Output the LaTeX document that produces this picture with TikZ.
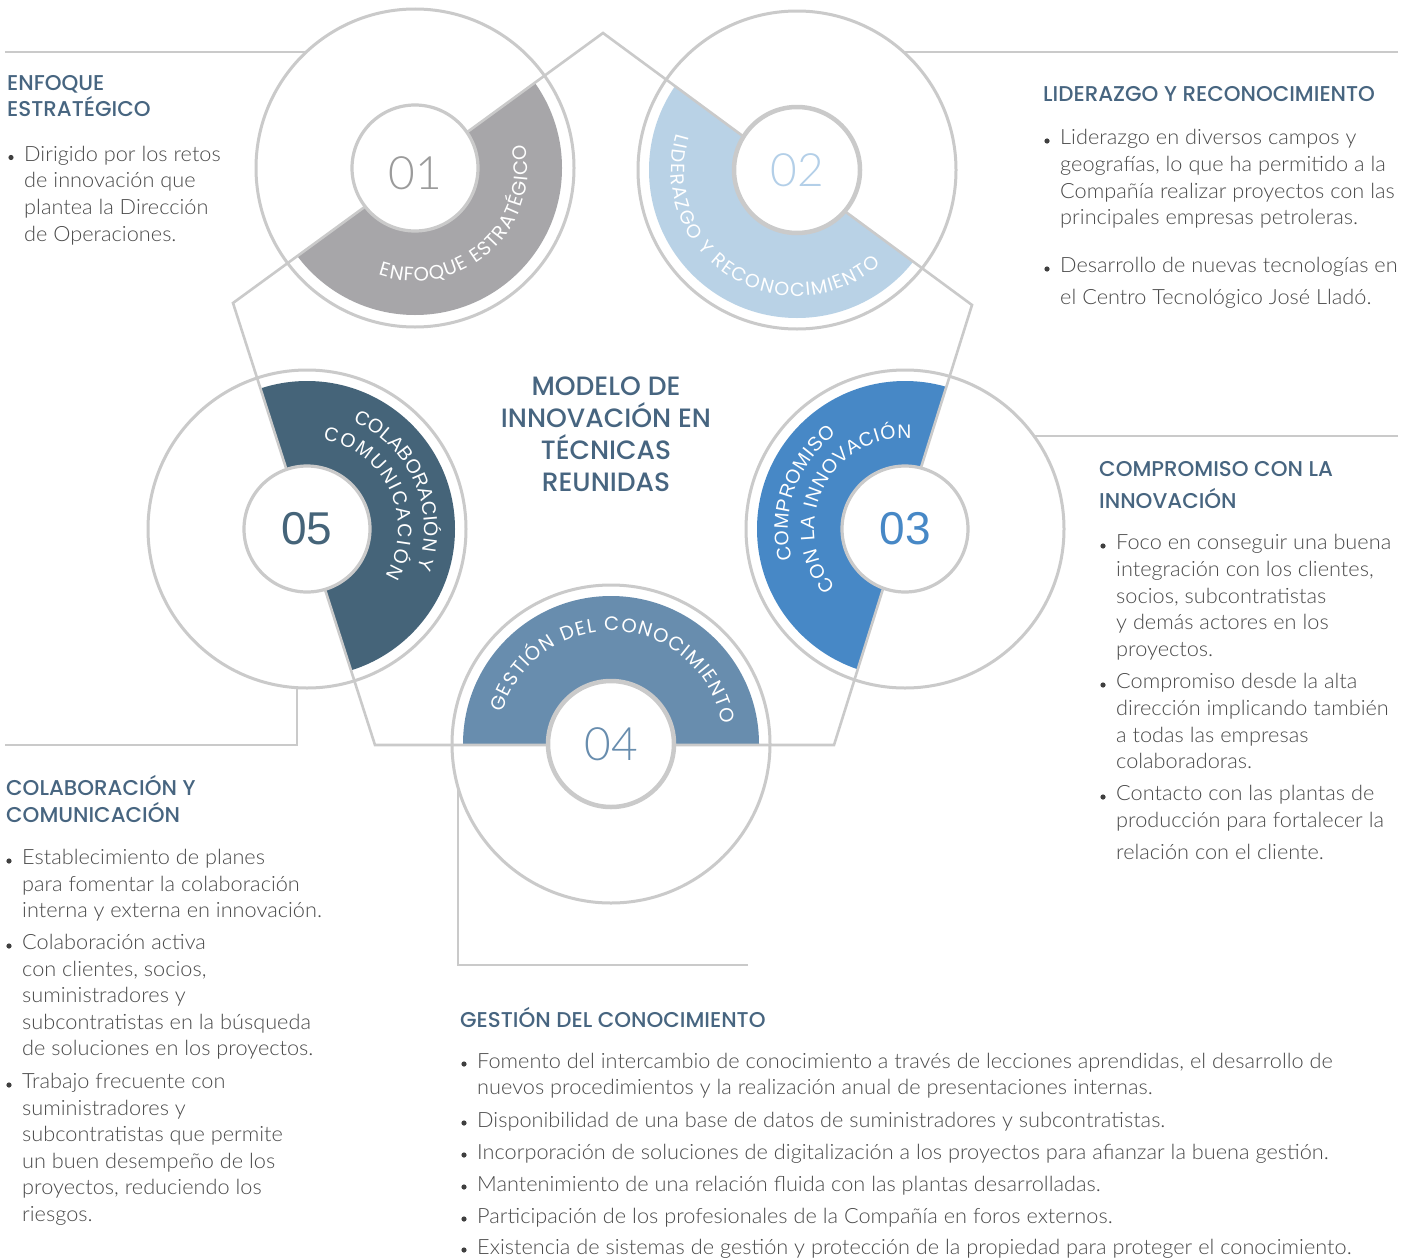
\documentclass[tikz,border=0pt]{standalone}
\usepackage{fontspec}
\usetikzlibrary{calc,decorations.text}
\IfFontExistsTF{Lato Light}
 {\setmainfont{Lato Light}\newfontfamily\bodyfont{Lato Light}[FakeStretch=1.035]\newfontfamily\numfont{Lato Light}}
 {\setmainfont{Lato}\newfontfamily\bodyfont{Lato}[FakeStretch=1.035]\newfontfamily\numfont{Lato}}
\IfFontExistsTF{Poppins Medium}
 {\newfontfamily\headfont{Poppins Medium}}
 {\newfontfamily\headfont{Poppins}}
\newfontfamily\arcfont{Poppins}
\newfontfamily\arialfont{Liberation Sans}
\newcommand\tightlines{\lineskiplimit=-40pt\relax\lineskip=0pt\relax}
\definecolor{linecol}{HTML}{CACACA}
\definecolor{headcol}{HTML}{476580}
\definecolor{bodycol}{HTML}{4A4A4A}
\definecolor{sectA}{HTML}{A7A6A9}
\definecolor{sectB}{HTML}{B9D2E6}
\definecolor{sectC}{HTML}{4788C6}
\definecolor{sectD}{HTML}{688DAE}
\definecolor{sectE}{HTML}{456479}
\definecolor{numA}{HTML}{9B9B9B}
\definecolor{numB}{HTML}{B3CFE8}
\begin{document}
\begin{tikzpicture}[x=1pt,y=1pt,
  conn/.style={draw=linecol, line width=2.6pt},
  ring/.style={circle, draw=linecol, line width=3pt, fill=white, minimum size=318pt, inner sep=0pt},
  hub/.style={circle, draw=linecol, line width=3.2pt, fill=white, minimum size=126pt, inner sep=0pt, font=\numfont\fontsize{46}{46}\selectfont},
  head/.style={anchor=north west, inner sep=0pt, align=left, text=headcol, font=\headfont\fontsize{21.4}{26}\selectfont\tightlines},
  body/.style={anchor=north west, inner sep=0pt, align=left, text=bodycol, font=\bodyfont\fontsize{21}{26.7}\selectfont\tightlines},
  bullet/.style={circle, fill=bodycol!85!black, inner sep=0pt, minimum size=5.2pt},
  arctext/.style={decorate, decoration={text along path, text align=fit to path, text color=white, text={#1}}}
]
\fill[white] (0,0) rectangle (1416,-1258);
\useasboundingbox (0,0) rectangle (1416,-1258);

% pentagon vertices and circle centres
\coordinate (P1) at (603,-33);
\coordinate (P2) at (972,-305);
\coordinate (P3) at (834,-745);
\coordinate (P4) at (375,-745);
\coordinate (P5) at (233,-303);
\coordinate (c1) at (415,-168);
\coordinate (c2) at (797,-170);
\coordinate (c3) at (905,-529);
\coordinate (c4) at (611,-744);
\coordinate (c5) at (307,-529);

% connectors to text blocks
\coordinate (k1) at (5,-52);
\coordinate (k2) at (1398,-52);
\coordinate (k3) at (1398,-436);
\coordinate (k5) at (5,-745);
\coordinate (k5b) at (297,-745);
\coordinate (k4) at (748,-965);
\coordinate (k4b) at (458,-965);
\draw[conn] (k1) -- (k1 -| c1);
\draw[conn] (k2) -- (k2 -| c2);
\draw[conn] (k3) -- (k3 -| c3);
\draw[conn] (k5) -- (k5b) -- (k5b |- c5);
\draw[conn] (k4) -- (k4b) -- (k4b |- c4);

% outer rings
\node[ring] (o1) at (c1) {};
\node[ring] (o2) at (c2) {};
\node[ring] (o3) at (c3) {};
\node[ring] (o4) at (c4) {};
\node[ring] (o5) at (c5) {};

% coloured half rings
\begin{scope}
\clip (P1) -- (P2) -- (P3) -- (P4) -- (P5) -- cycle;
\fill[sectA] (c1) circle[radius=147];
\fill[sectB] (c2) circle[radius=148];
\fill[sectC] (c3) circle[radius=148];
\fill[sectD] (c4) circle[radius=148];
\fill[sectE] (c5) circle[radius=148];
\end{scope}

% pentagon
\draw[conn, line join=miter] (P1) -- (P2) -- (P3) -- (P4) -- (P5) -- cycle;

% hubs
\node[hub] (n1) at (c1) {};
\node[text=numA, font=\numfont\fontsize{46}{46}\selectfont, inner sep=0pt] (t1) at ($(c1)+(0,-5)$) {01};
\node[hub, text=numB, line width=4.5pt] (n2) at (c2) {02};
\node[hub, text=sectC, font=\arialfont\fontsize{46}{46}\selectfont] (n3) at (c3) {03};
\node[hub, text=sectD, line width=4.5pt] (n4) at (c4) {04};
\node[hub, text=sectE, font=\arialfont\fontsize{46}{46}\selectfont] (n5) at (c5) {05};

% curved labels
\path[arctext={|\arcfont\fontsize{19.5}{19.5}\selectfont|ENFOQUE ESTRATÉGICO}]
  ($(c1)+(-109:113)$) arc[start angle=-109, end angle=12, radius=113];
\path[arctext={|\arcfont\fontsize{19}{19}\selectfont|LIDERAZGO Y RECONOCIMIENTO}]
  ($(c2)+(163:126)$) arc[start angle=163, end angle=312, radius=126];
\path[arctext={|\arialfont\fontsize{19.5}{19.5}\selectfont|COMPROMISO}]
  ($(c3)+(195:117)$) arc[start angle=195, end angle=126, radius=117];
\path[arctext={|\arialfont\fontsize{19.5}{19.5}\selectfont|CON LA INNOVACIÓN}]
  ($(c3)+(220:91)$) arc[start angle=220, end angle=86, radius=91];
\path[arctext={|\arcfont\fontsize{19.5}{19.5}\selectfont|GESTIÓN DEL CONOCIMIENTO}]
  ($(c4)+(164:113)$) arc[start angle=164, end angle=10, radius=113];
\path[arctext={|\arialfont\fontsize{19.5}{19.5}\selectfont|COLABORACIÓN Y}]
  ($(c5)+(67:117)$) arc[start angle=67, end angle=-20, radius=117];
\path[arctext={|\arialfont\fontsize{19.5}{19.5}\selectfont|COMUNICACIÓN}]
  ($(c5)+(80:91)$) arc[start angle=80, end angle=-31, radius=91];

% title
\node[align=center, text=headcol, font=\headfont\fontsize{26.5}{32}\selectfont\tightlines, inner sep=0pt, anchor=north] (title) at (606,-372.6)
  {\strut MODELO DE\\INNOVACIÓN EN\\TÉCNICAS\\REUNIDAS};

% block 1
\node[head] (h1) at (7,-71.8) {\strut ENFOQUE\\ESTRATÉGICO};
\node[body] (b1) at (24,-142.3) {\strut Dirigido por los retos\\de innovación que\\plantea la Dirección\\de Operaciones.};
\node[bullet] (d1) at (11,-157.5) {};

% block 2
\node[head] (h2) at (1043,-82.8) {\strut LIDERAZGO Y RECONOCIMIENTO};
\node[body] (b2a) at (1060,-125.8) {\strut Liderazgo en diversos campos y\\geografías, lo que ha permitido a la\\Compañía realizar proyectos con las\\principales empresas petroleras.};
\node[body] (b2b) at (1060,-253.8) {\strut Desarrollo de nuevas tecnologías en\\[5.3pt]el Centro Tecnológico José Lladó.};
\node[bullet] (d2a) at (1047,-141) {};
\node[bullet] (d2b) at (1047,-269) {};

% block 3
\node[head] (h3) at (1099,-457.8) {\strut COMPROMISO CON LA\\[6pt]INNOVACIÓN};
\node[body] (b3a) at (1116,-530.8) {\strut Foco en conseguir una buena\\integración con los clientes,\\socios, subcontratistas\\y demás actores en los\\proyectos.};
\node[body] (b3b) at (1116,-669.8) {\strut Compromiso desde la alta\\dirección implicando también\\a todas las empresas\\colaboradoras.};
\node[body] (b3c) at (1116,-781.8) {\strut Contacto con las plantas de\\producción para fortalecer la\\[5.6pt]relación con el cliente.};
\node[bullet] (d3a) at (1103,-546) {};
\node[bullet] (d3b) at (1103,-685) {};
\node[bullet] (d3c) at (1103,-797) {};

% block 5
\node[head] (h5) at (6,-774.8) {\strut COLABORACIÓN Y\\[1pt]COMUNICACIÓN};
\node[body, font=\bodyfont\fontsize{21}{26.5}\selectfont\tightlines] (b5a) at (22,-846) {\strut Establecimiento de planes\\para fomentar la colaboración\\interna y externa en innovación.};
\node[body, font=\bodyfont\fontsize{21}{26.5}\selectfont\tightlines] (b5b) at (22,-931) {\strut Colaboración activa\\con clientes, socios,\\suministradores y\\subcontratistas en la búsqueda\\de soluciones en los proyectos.};
\node[body, font=\bodyfont\fontsize{21}{26.5}\selectfont\tightlines] (b5c) at (22,-1070) {\strut Trabajo frecuente con\\suministradores y\\subcontratistas que permite\\un buen desempeño de los\\proyectos, reduciendo los\\riesgos.};
\node[bullet] (d5a) at (9,-861) {};
\node[bullet] (d5b) at (9,-946) {};
\node[bullet] (d5c) at (9,-1085) {};

% block 4
\node[head] (h4) at (460,-1006.8) {\strut GESTIÓN DEL CONOCIMIENTO};
\begin{scope}[every node/.append style={font=\bodyfont\fontsize{21}{26}\selectfont\tightlines}]
\node[body] (b4a) at (477,-1049.3) {\strut Fomento del intercambio de conocimiento a través de lecciones aprendidas, el desarrollo de\\nuevos procedimientos y la realización anual de presentaciones internas.};
\node[body] (b4b) at (477,-1108.3) {\strut Disponibilidad de una base de datos de suministradores y subcontratistas.};
\node[body] (b4c) at (477,-1140.3) {\strut Incorporación de soluciones de digitalización a los proyectos para afianzar la buena gestión.};
\node[body] (b4d) at (477,-1172.3) {\strut Mantenimiento de una relación fluida con las plantas desarrolladas.};
\node[body] (b4e) at (477,-1204.3) {\strut Participación de los profesionales de la Compañía en foros externos.};
\node[body] (b4f) at (477,-1235.3) {\strut Existencia de sistemas de gestión y protección de la propiedad para proteger el conocimiento.};
\end{scope}
\node[bullet] (d4a) at (464,-1064) {};
\node[bullet] (d4b) at (464,-1123) {};
\node[bullet] (d4c) at (464,-1155) {};
\node[bullet] (d4d) at (464,-1187) {};
\node[bullet] (d4e) at (464,-1219) {};
\node[bullet] (d4f) at (464,-1250) {};
\end{tikzpicture}
\end{document}
